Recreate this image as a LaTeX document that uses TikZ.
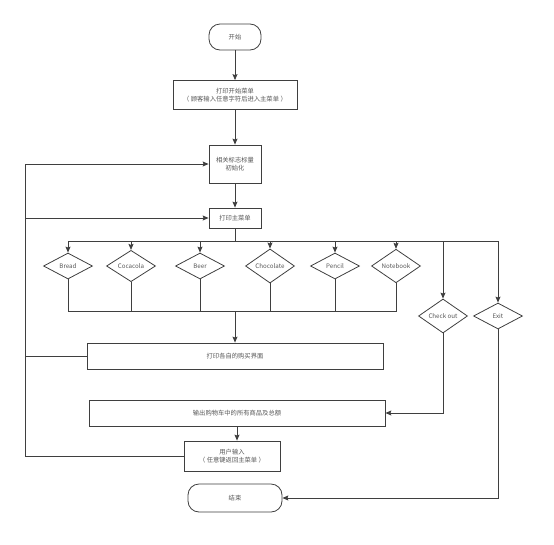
\documentclass[tikz,border=0pt]{standalone}
\usepackage{fontspec}
\setmainfont{Noto Sans CJK SC}
\usepackage{tikz}
\usetikzlibrary{shapes.geometric, arrows.meta, positioning}
\definecolor{linegray}{HTML}{3F3F3F}
\definecolor{textgray}{HTML}{555555}
\tikzstyle{startstop} = [rectangle, rounded corners=11pt, minimum width=52pt, minimum height=26pt, text centered, draw=linegray, line width=0.8pt, text=textgray, font=\fontsize{6.3}{8}\selectfont]
\tikzstyle{process} = [rectangle, text centered, align=center, draw=linegray, line width=0.8pt, text=textgray, inner sep=1pt, font=\fontsize{6.3}{8.5}\selectfont]
\tikzstyle{decision} = [diamond, minimum width=49pt, minimum height=26pt, inner sep=0pt, text centered, draw=linegray, line width=0.8pt, text=textgray, font=\fontsize{6.2}{7}\selectfont]
\tikzstyle{arrow} = [line width=0.8pt, draw=linegray, ->, >={Stealth[length=6pt, width=5pt, inset=1pt]}]
\tikzstyle{line} = [line width=0.8pt, draw=linegray]

\begin{document}
\begin{tikzpicture}[x=1pt, y=-1pt]
    \useasboundingbox (0,0) rectangle (554,544);
    % Nodes
    \node (start) [startstop] at (235,37) {开始};
    \node (a1) [process, minimum width=124pt, minimum height=29pt] at (235,95) {打印开始菜单\\（ 顾客输入任意字符后进入主菜单 ）};
    \node (init) [process, minimum width=52pt, minimum height=38pt] at (235,164) {相关标志标量\\初始化};
    \node (menu) [process, minimum width=52pt, minimum height=20pt] at (235,218) {打印主菜单};
    \node (bread) [decision] at (68,266) {Bread};
    \node (cola) [decision] at (131,266) {Cocacola};
    \node (beer) [decision] at (200,266) {Beer};
    \node (choc) [decision] at (270,266) {Chocolate};
    \node (pencil) [decision] at (335,266) {Pencil};
    \node (note) [decision] at (396,266) {Notebook};
    \node (checkout) [decision] at (443,316) {Check out};
    \node (exit) [decision] at (498,316) {Exit};
    \node (buy) [process, minimum width=296pt, minimum height=26pt] at (235,356) {打印各自的购买界面};
    \node (output) [process, minimum width=296pt, minimum height=26pt] at (237,413) {输出购物车中的所有商品及总额};
    \node (user) [process, minimum width=96pt, minimum height=30pt] at (232,456) {用户输入\\（ 任意键返回主菜单 ）};
    \node (stop) [startstop, minimum width=94pt, minimum height=28pt] at (235,498) {结束};
    \coordinate (bus) at (235,241);
    \coordinate (join) at (235,311);
    \coordinate (loop) at (25,455);

    % Arrows
    \draw [arrow] (start) -- (a1);
    \draw [arrow] (a1) -- (init);
    \draw [arrow] (init) -- (menu);
    \draw [line] (menu) -- (bus);
    \foreach \d in {bread, cola, beer, choc, pencil, note, checkout, exit}
        \draw [arrow] (bus) -| (\d.north);
    \foreach \d in {bread, cola, beer, choc, pencil, note}
        \draw [line] (\d.south) |- (join);
    \draw [arrow] (join) -- (buy);
    \draw [arrow] (checkout.south) |- (output.east);
    \draw [arrow] (exit.south) |- (stop.east);
    \draw [arrow] (output.south) -- (output.south |- user.north);
    \draw [arrow] (buy.west) -- (buy.west -| loop) |- (menu.west);
    \draw [arrow] (user.west) -- (user.west -| loop) |- (init.west);

\end{tikzpicture}
\end{document}
